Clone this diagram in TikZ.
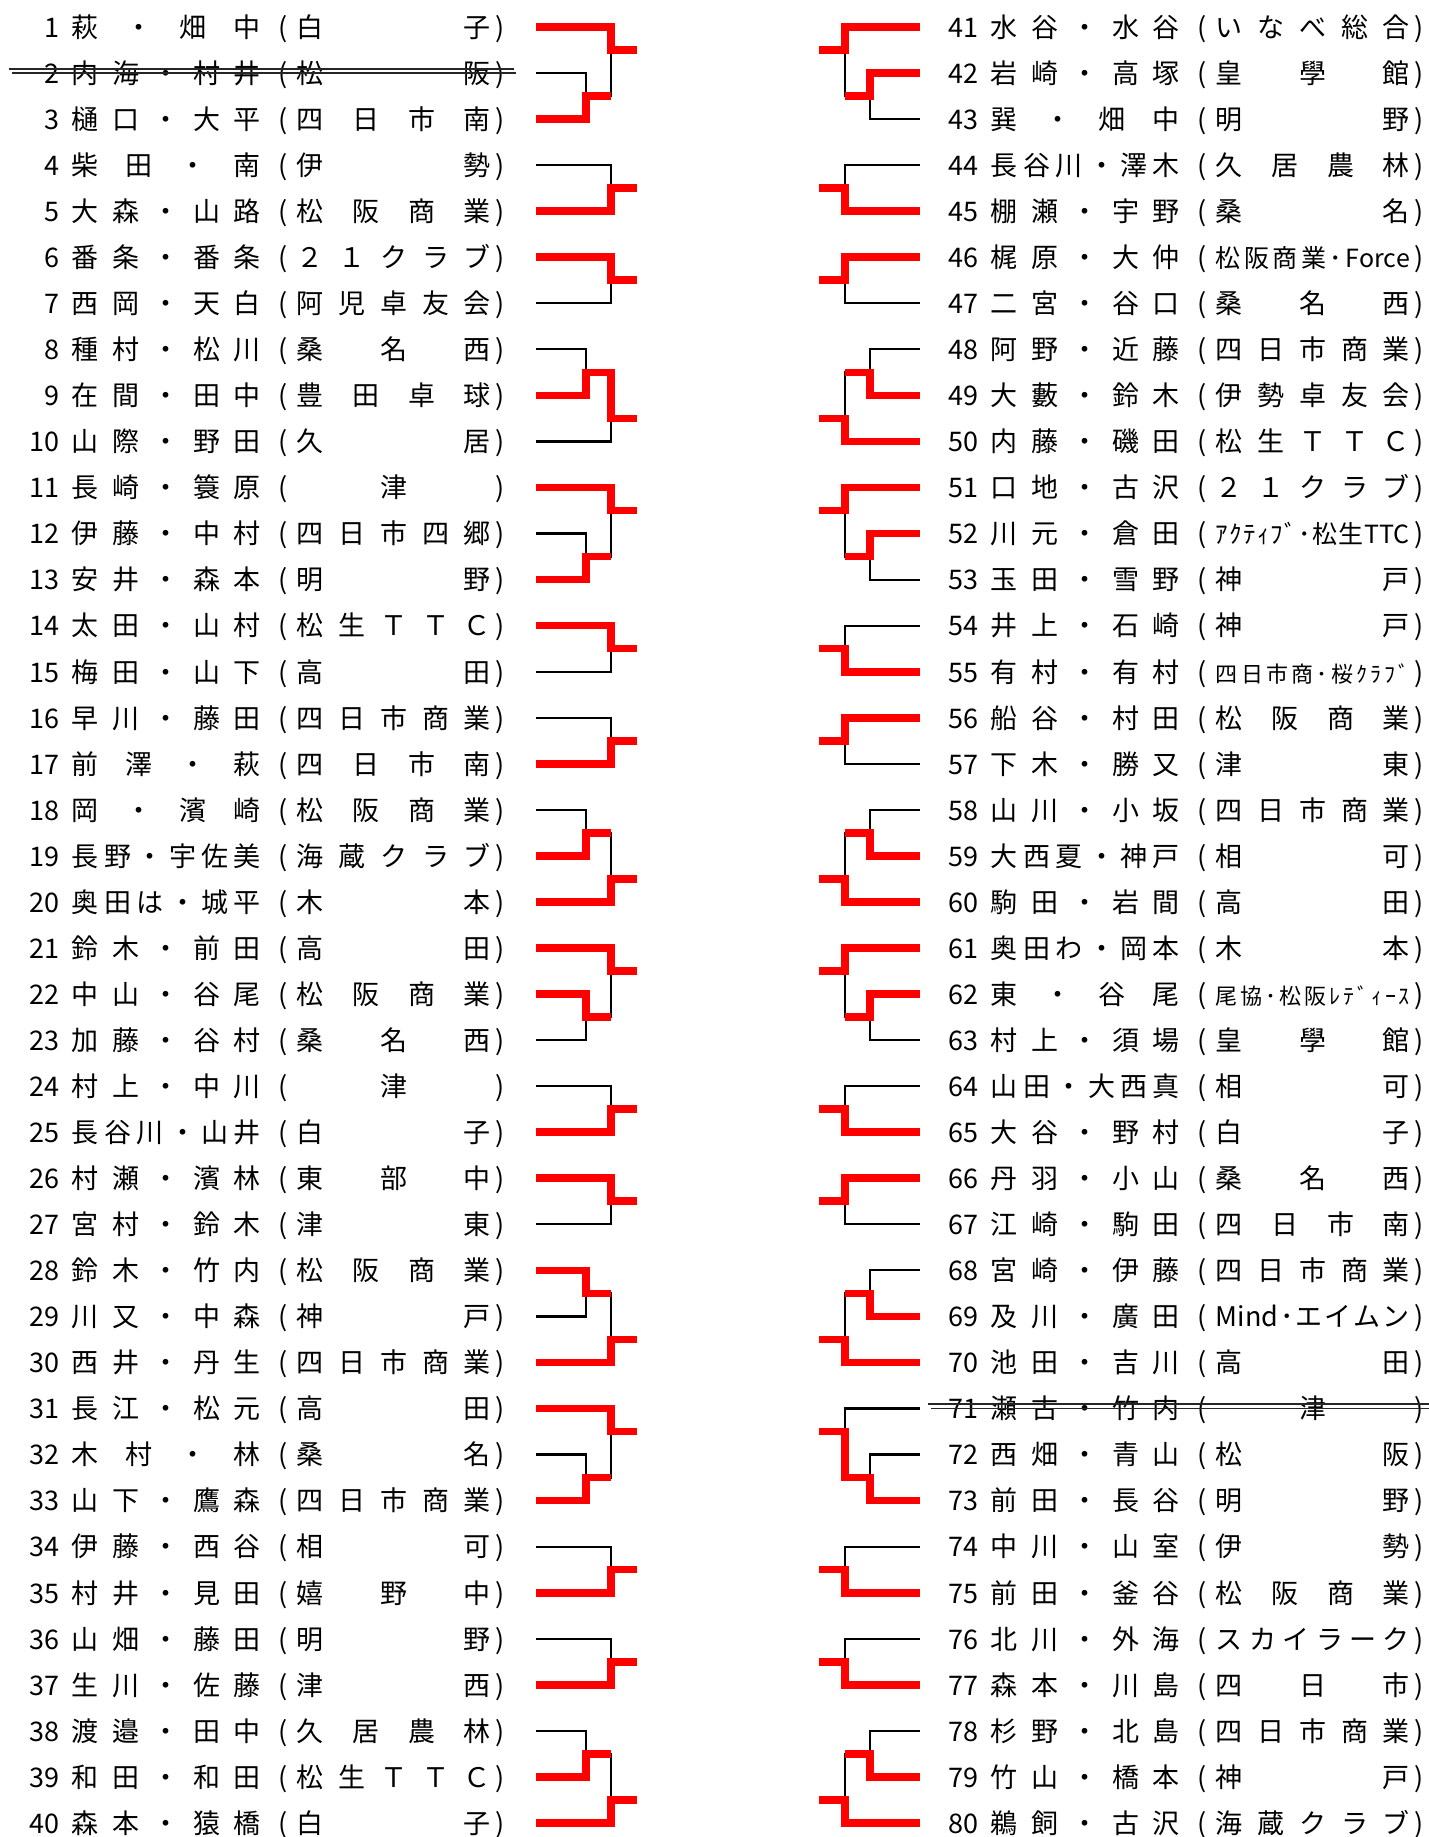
\documentclass[tikz,border=0pt]{standalone}
\usepackage{fontspec}
\setmainfont{Noto Sans CJK JP}
\usepackage{graphicx}
\usepackage{tikz}
\definecolor{brRed}{HTML}{FF0000}

% distributed text: \hfill between every token
\def\spreadstop{\spreadstop}
\def\spreadend{\spreadstop}
\def\spreadchars#1{\spreadfirst#1\spreadstop}
\def\spreadfirst#1{\def\spreadtmp{#1}\ifx\spreadtmp\spreadend\else#1\expandafter\spreadnext\fi}
\def\spreadnext#1{\def\spreadtmp{#1}\ifx\spreadtmp\spreadend\else\hfill#1\expandafter\spreadnext\fi}

\newcommand\player[6][]{%
  \pgfmathsetmacro\by{27+(#3-1)*46.05+10.3}%
  \node[txt, anchor=base east] (num#4) at (#2+60,\by) {#4};
  \node[txt, anchor=base west] (name#4) at (#2+71.5,\by) {\makebox[94.5pt][s]{\spreadchars{#5}}};
  \node[txt, anchor=base] (op#4) at (#2+283,\by) {(};
  \node[txt, anchor=base west] (club#4) at (#2+296.5,\by) {\makebox[97pt][s]{#1\spreadchars{#6}}};
  \node[txt, anchor=base] (cp#4) at (#2+500,\by) {)};
}

\newcommand\struck[2]{%
  \pgfmathsetmacro\sy{27+(#2-1)*46.05}%
  \draw[strikeline] (#1+9,\sy-4.3) -- (#1+514,\sy-4.3);
  \draw[strikeline] (#1+12,\sy) -- (#1+516,\sy);
}

\newcommand\duel[2]{%
  \pgfmathsetmacro\ya{27+(#1-1)*46.05}%
  \pgfmathsetmacro\yb{\ya+46.05}%
  \pgfmathsetmacro\yo{\ya+23.025}%
  \draw[tie] (536,\ya) -- (611,\ya) -- (611,\yb) -- (536,\yb);
  \ifnum#2=0
    \draw[win] (536,\ya) -- (611,\ya) -- (611,\yo) -- (637,\yo);
  \else
    \draw[win] (536,\yb) -- (611,\yb) -- (611,\yo) -- (637,\yo);
  \fi}

% single row on top, pair below
\newcommand\triolow[3]{%
  \pgfmathsetmacro\ya{27+(#1-1)*46.05}%
  \pgfmathsetmacro\yb{\ya+46.05}%
  \pgfmathsetmacro\yc{\ya+92.1}%
  \pgfmathsetmacro\yo{\ya+23.025}%
  \pgfmathsetmacro\yj{\ya+69.075}%
  \ifnum#2=1 \let\yw\yb \else \let\yw\yc \fi
  \draw[tie] (536,\ya) -- (611,\ya) -- (611,\yj) -- (586,\yj);
  \draw[tie] (536,\yb) -- (586,\yb) -- (586,\yc) -- (536,\yc);
  \ifnum#3=0
    \draw[win] (536,\yw) -- (586,\yw) -- (586,\yj) -- (611,\yj);
    \draw[win] (536,\ya) -- (611,\ya) -- (611,\yo) -- (637,\yo);
  \else
    \draw[win] (536,\yw) -- (586,\yw) -- (586,\yj) -- (611,\yj) -- (611,\yo) -- (637,\yo);
  \fi}

% pair on top, single row below
\newcommand\triohigh[3]{%
  \pgfmathsetmacro\ya{27+(#1-1)*46.05}%
  \pgfmathsetmacro\yb{\ya+46.05}%
  \pgfmathsetmacro\yc{\ya+92.1}%
  \pgfmathsetmacro\yj{\ya+23.025}%
  \pgfmathsetmacro\yo{\ya+69.075}%
  \ifnum#2=0 \let\yw\ya \else \let\yw\yb \fi
  \draw[tie] (536,\ya) -- (586,\ya) -- (586,\yb) -- (536,\yb);
  \draw[tie] (586,\yj) -- (611,\yj) -- (611,\yc) -- (536,\yc);
  \ifnum#3=0
    \draw[win] (536,\yw) -- (586,\yw) -- (586,\yj) -- (611,\yj) -- (611,\yo) -- (637,\yo);
  \else
    \draw[win] (536,\yw) -- (586,\yw) -- (586,\yj) -- (611,\yj);
    \draw[win] (536,\yc) -- (611,\yc) -- (611,\yo) -- (637,\yo);
  \fi}

\begin{document}
\begin{tikzpicture}[x=0.5pt, y=-0.5pt,
  txt/.style={inner sep=0pt, font=\fontsize{13.5}{16}\selectfont},
  tie/.style={line width=1.1pt, black, line join=miter},
  win/.style={line width=3.8pt, brRed, line join=miter},
  strikeline/.style={line width=0.75pt, black!85}
]
  \useasboundingbox (0,0) rectangle (1429,1837);

  \player{0}{1}{1}{萩・畑中}{白子}
  \player{0}{2}{2}{内海・村井}{松阪}
  \player{0}{3}{3}{樋口・大平}{四日市南}
  \player{0}{4}{4}{柴田・南}{伊勢}
  \player{0}{5}{5}{大森・山路}{松阪商業}
  \player{0}{6}{6}{番条・番条}{２１クラブ}
  \player{0}{7}{7}{西岡・天白}{阿児卓友会}
  \player{0}{8}{8}{種村・松川}{桑名西}
  \player{0}{9}{9}{在間・田中}{豊田卓球}
  \player{0}{10}{10}{山際・野田}{久居}
  \player{0}{11}{11}{長崎・簑原}{{\hfill 津\hfill}}
  \player{0}{12}{12}{伊藤・中村}{四日市四郷}
  \player{0}{13}{13}{安井・森本}{明野}
  \player{0}{14}{14}{太田・山村}{松生ＴＴＣ}
  \player{0}{15}{15}{梅田・山下}{高田}
  \player{0}{16}{16}{早川・藤田}{四日市商業}
  \player{0}{17}{17}{前澤・萩}{四日市南}
  \player{0}{18}{18}{岡・濱崎}{松阪商業}
  \player{0}{19}{19}{長野・宇佐美}{海蔵クラブ}
  \player{0}{20}{20}{奥田は・城平}{木本}
  \player{0}{21}{21}{鈴木・前田}{高田}
  \player{0}{22}{22}{中山・谷尾}{松阪商業}
  \player{0}{23}{23}{加藤・谷村}{桑名西}
  \player{0}{24}{24}{村上・中川}{{\hfill 津\hfill}}
  \player{0}{25}{25}{長谷川・山井}{白子}
  \player{0}{26}{26}{村瀬・濱林}{東部中}
  \player{0}{27}{27}{宮村・鈴木}{津東}
  \player{0}{28}{28}{鈴木・竹内}{松阪商業}
  \player{0}{29}{29}{川又・中森}{神戸}
  \player{0}{30}{30}{西井・丹生}{四日市商業}
  \player{0}{31}{31}{長江・松元}{高田}
  \player{0}{32}{32}{木村・林}{桑名}
  \player{0}{33}{33}{山下・鷹森}{四日市商業}
  \player{0}{34}{34}{伊藤・西谷}{相可}
  \player{0}{35}{35}{村井・見田}{嬉野中}
  \player{0}{36}{36}{山畑・藤田}{明野}
  \player{0}{37}{37}{生川・佐藤}{津西}
  \player{0}{38}{38}{渡邉・田中}{久居農林}
  \player{0}{39}{39}{和田・和田}{松生ＴＴＣ}
  \player{0}{40}{40}{森本・猿橋}{白子}

  \player{919}{1}{41}{水谷・水谷}{いなべ総合}
  \player{919}{2}{42}{岩崎・高塚}{皇學館}
  \player{919}{3}{43}{巽・畑中}{明野}
  \player{919}{4}{44}{長谷川・澤木}{久居農林}
  \player{919}{5}{45}{棚瀬・宇野}{桑名}
  \player[\fontsize{12.5}{15}\selectfont]{919}{6}{46}{梶原・大仲}{松阪商業･{Force}}
  \player{919}{7}{47}{二宮・谷口}{桑名西}
  \player{919}{8}{48}{阿野・近藤}{四日市商業}
  \player{919}{9}{49}{大藪・鈴木}{伊勢卓友会}
  \player{919}{10}{50}{内藤・磯田}{松生ＴＴＣ}
  \player{919}{11}{51}{口地・古沢}{２１クラブ}
  \player[\fontsize{12.5}{15}\selectfont]{919}{12}{52}{川元・倉田}{ｱｸﾃｨﾌﾞ･松生{TTC}}
  \player{919}{13}{53}{玉田・雪野}{神戸}
  \player{919}{14}{54}{井上・石崎}{神戸}
  \player[\fontsize{11}{13}\selectfont]{919}{15}{55}{有村・有村}{四日市商･桜ｸﾗﾌﾞ}
  \player{919}{16}{56}{船谷・村田}{松阪商業}
  \player{919}{17}{57}{下木・勝又}{津東}
  \player{919}{18}{58}{山川・小坂}{四日市商業}
  \player{919}{19}{59}{大西夏・神戸}{相可}
  \player{919}{20}{60}{駒田・岩間}{高田}
  \player{919}{21}{61}{奥田わ・岡本}{木本}
  \player[\fontsize{11}{13}\selectfont]{919}{22}{62}{東・谷尾}{尾協･松阪ﾚﾃﾞｨｰｽ}
  \player{919}{23}{63}{村上・須場}{皇學館}
  \player{919}{24}{64}{山田・大西真}{相可}
  \player{919}{25}{65}{大谷・野村}{白子}
  \player{919}{26}{66}{丹羽・小山}{桑名西}
  \player{919}{27}{67}{江崎・駒田}{四日市南}
  \player{919}{28}{68}{宮崎・伊藤}{四日市商業}
  \player{919}{29}{69}{及川・廣田}{{Mind}･エイムン}
  \player{919}{30}{70}{池田・吉川}{高田}
  \player{919}{31}{71}{瀬古・竹内}{{\hfill 津\hfill}}
  \player{919}{32}{72}{西畑・青山}{松阪}
  \player{919}{33}{73}{前田・長谷}{明野}
  \player{919}{34}{74}{中川・山室}{伊勢}
  \player{919}{35}{75}{前田・釜谷}{松阪商業}
  \player{919}{36}{76}{北川・外海}{スカイラーク}
  \player{919}{37}{77}{森本・川島}{四日市}
  \player{919}{38}{78}{杉野・北島}{四日市商業}
  \player{919}{39}{79}{竹山・橋本}{神戸}
  \player{919}{40}{80}{鵜飼・古沢}{海蔵クラブ}

  \struck{0}{2}
  \struck{919}{31}

  % left half
  \triolow{1}{2}{0}
  \duel{4}{1}
  \duel{6}{0}
  \triohigh{8}{1}{0}
  \triolow{11}{2}{0}
  \duel{14}{0}
  \duel{16}{1}
  \triohigh{18}{1}{1}
  \triolow{21}{1}{0}
  \duel{24}{1}
  \duel{26}{0}
  \triohigh{28}{0}{1}
  \triolow{31}{2}{0}
  \duel{34}{1}
  \duel{36}{1}
  \triohigh{38}{1}{1}

  % right half, mirrored
  \begin{scope}[xshift=728pt, xscale=-1]
    \triolow{1}{1}{0}
    \duel{4}{1}
    \duel{6}{0}
    \triohigh{8}{1}{1}
    \triolow{11}{1}{0}
    \duel{14}{1}
    \duel{16}{0}
    \triohigh{18}{1}{1}
    \triolow{21}{1}{0}
    \duel{24}{1}
    \duel{26}{0}
    \triohigh{28}{1}{1}
    \triolow{31}{2}{1}
    \duel{34}{1}
    \duel{36}{1}
    \triohigh{38}{1}{1}
  \end{scope}
\end{tikzpicture}
\end{document}
